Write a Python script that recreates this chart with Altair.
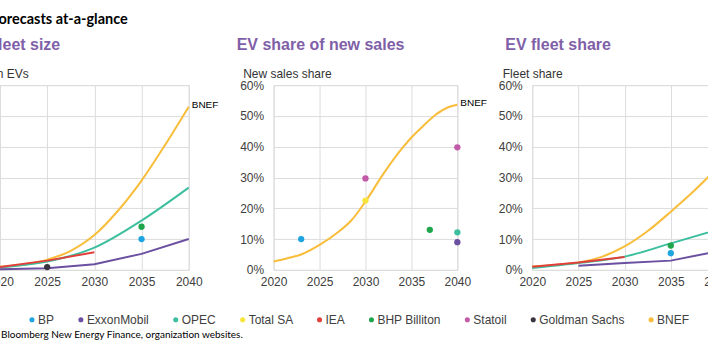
import altair as alt
import pandas as pd

SOURCES = ["BP", "ExxonMobil", "OPEC", "Total SA", "IEA", "BHP Billiton", "Statoil", "Goldman Sachs", "BNEF"]
COLORS = ["#1ea5e0", "#6b4fa0", "#3dbf9f", "#f8e53a", "#e2403a", "#1fa64d", "#c35aa8", "#3a3340", "#f8bd3a"]
PURPLE = "#7f60a8"
FONT = "Liberation Sans"
X_TICKS = [2020, 2025, 2030, 2035, 2040]

# ---- EV fleet size (million EVs) ----
fleet_bnef_years = [2020, 2025, 2027.5, 2030, 2032.5, 2035, 2037.5, 2040]
fleet_bnef_vals = [10, 33, 62, 113, 192, 290, 406, 530]
fleet_opec_years = [2020, 2025, 2030, 2035, 2040]
fleet_opec_vals = [8, 27, 72, 160, 267]
fleet_iea_years = [2020, 2025, 2030]
fleet_iea_vals = [9, 30, 57]
fleet_exxon_years = [2020, 2025, 2030, 2035, 2040]
fleet_exxon_vals = [2, 5, 18, 52, 100]
fleet_pt_src = ["BP", "BHP Billiton", "Goldman Sachs"]
fleet_pt_years = [2035, 2035, 2025]
fleet_pt_vals = [100, 140, 9]

# ---- EV share of new sales (%) ----
sales_bnef_years = [2020, 2021.5, 2023, 2025, 2027, 2028.5, 2030, 2032, 2034, 2035, 2036.2, 2037.6, 2039, 2040]
sales_bnef_vals = [2.7, 3.8, 5.0, 8.1, 12.2, 16.2, 22.2, 31.4, 39.5, 43.0, 46.5, 50.3, 52.8, 53.6]
sales_pt_src = ["BP", "Statoil", "Total SA", "BHP Billiton", "OPEC", "ExxonMobil", "Statoil"]
sales_pt_years = [2023, 2030, 2030, 2037, 2040, 2040, 2040]
sales_pt_vals = [10.0, 29.7, 22.5, 13.0, 12.2, 9.0, 39.8]

# ---- EV fleet share (%) ----
share_bnef_years = [2020, 2022.5, 2025, 2027.5, 2030, 2032.5, 2035, 2037.5, 2040]
share_bnef_vals = [1.1, 1.6, 2.4, 4.2, 7.6, 12.6, 18.9, 25.6, 33.0]
share_opec_years = [2020, 2025, 2030, 2035, 2040]
share_opec_vals = [0.6, 2.2, 4.3, 8.6, 13.0]
share_iea_years = [2020, 2025, 2030]
share_iea_vals = [1.0, 2.4, 4.2]
share_exxon_years = [2025, 2030, 2035, 2040]
share_exxon_vals = [1.3, 2.2, 3.0, 6.0]
share_pt_src = ["BHP Billiton", "BP"]
share_pt_years = [2035, 2035]
share_pt_vals = [7.9, 5.4]


def series(name, years, vals, scale=1.0):
    return pd.DataFrame({"source": name, "year": years, "value": [v * scale for v in vals]})


legend = alt.Legend(
    title=None, orient="none", legendX=26, legendY=229, direction="horizontal", columns=9,
    symbolType="circle", symbolSize=26, symbolStrokeWidth=0, labelFont=FONT, labelFontSize=12,
    labelColor="#404040", labelOffset=0, columnPadding=20, padding=0, gridAlign="none",
)
cscale = alt.Scale(domain=SOURCES, range=COLORS)
color = alt.Color("source:N", scale=cscale, legend=legend)


def text_layer(txt, x, y, size, weight="normal", col="#000000", font=FONT):
    return alt.Chart(pd.DataFrame({"t": [txt]})).mark_text(
        align="left", baseline="alphabetic", font=font, fontSize=size, fontWeight=weight, color=col
    ).encode(x=alt.value(x), y=alt.value(y), text="t:N")


def panel(smooth_df, linear_df, pts_df, ymax, ystep, yfmt, ytitle, ytitle_x, title, title_x, width, extra=()):
    xs = alt.X("year:Q", scale=alt.Scale(domain=[2020, 2040], nice=False),
               axis=alt.Axis(values=X_TICKS, format="d", title=None, grid=True, gridColor="#dcdcdc",
                             domain=False, ticks=False, labelPadding=7, labelFont=FONT,
                             labelFontSize=12, labelColor="#404040", labelFlush=False))
    yvals = [round(i * ystep, 6) for i in range(int(round(ymax / ystep)) + 1)]
    ys = alt.Y("value:Q", scale=alt.Scale(domain=[0, ymax], nice=False),
               axis=alt.Axis(values=yvals, format=yfmt, title=ytitle, grid=True, gridColor="#dcdcdc",
                             domain=False, ticks=False, labelPadding=10, labelFont=FONT,
                             labelFontSize=12, labelColor="#404040", labelFlush=False,
                             titleAngle=0, titleAlign="left",
                             titleBaseline="middle", titleX=ytitle_x, titleY=-12, titleFont=FONT,
                             titleFontSize=12, titleFontWeight="normal", titleColor="#333333"))
    layers = []
    if smooth_df is not None:
        layers.append(alt.Chart(smooth_df).mark_line(strokeWidth=2, interpolate="monotone")
                      .encode(x=xs, y=ys, color=color, detail="source:N"))
    if linear_df is not None:
        layers.append(alt.Chart(linear_df).mark_line(strokeWidth=2)
                      .encode(x=xs, y=ys, color=color, detail="source:N"))
    layers.append(alt.Chart(pts_df).mark_circle(size=40, opacity=1)
                  .encode(x=xs, y=ys, color=color))
    bnef_end = smooth_df[smooth_df.source == "BNEF"].tail(1)
    layers.append(alt.Chart(bnef_end).mark_text(align="left", baseline="middle", dx=3, dy=-2,
                                                font=FONT, fontSize=10, color="#000000")
                  .encode(x=xs, y=ys, text=alt.value("BNEF")))
    layers.append(text_layer(title, title_x, -35, 16, "bold", PURPLE))
    layers.extend(extra)
    return alt.layer(*layers).properties(width=width, height=185)


fleet_smooth = pd.concat([series("BNEF", fleet_bnef_years, fleet_bnef_vals),
                          series("OPEC", fleet_opec_years, fleet_opec_vals)])
fleet_linear = pd.concat([series("ExxonMobil", fleet_exxon_years, fleet_exxon_vals),
                          series("IEA", fleet_iea_years, fleet_iea_vals)])
fleet_pts = pd.DataFrame({"source": fleet_pt_src, "year": fleet_pt_years, "value": fleet_pt_vals})

sales_smooth = series("BNEF", sales_bnef_years, sales_bnef_vals, 0.01)
sales_pts = pd.DataFrame({"source": sales_pt_src, "year": sales_pt_years,
                          "value": [v / 100 for v in sales_pt_vals]})

share_smooth = pd.concat([series("BNEF", share_bnef_years, share_bnef_vals, 0.01),
                          series("OPEC", share_opec_years, share_opec_vals, 0.01)])
share_linear = pd.concat([series("ExxonMobil", share_exxon_years, share_exxon_vals, 0.01),
                          series("IEA", share_iea_years, share_iea_vals, 0.01)])
share_pts = pd.DataFrame({"source": share_pt_src, "year": share_pt_years,
                          "value": [v / 100 for v in share_pt_vals]})

left = panel(fleet_smooth, fleet_linear, fleet_pts, 600, 100, "d", "Million EVs", -31,
             "EV fleet size", -33, 189,
             extra=[text_layer("Forecasts at-a-glance", -9, -61, 14.5, "bold", "#000000", "Lato"),
                    text_layer("Source: Bloomberg New Energy Finance, organization websites.",
                               -34, 253, 10, "normal", "#000000", "Lato")])
mid = panel(sales_smooth, None, sales_pts, 0.6, 0.1, ".0%", "New sales share", -31,
            "EV share of new sales", -37, 184)
right = panel(share_smooth, share_linear, share_pts, 0.6, 0.1, ".0%", "Fleet share", -30,
              "EV fleet share", -27, 185)

inner = alt.hconcat(mid, right, spacing=75, bounds="flush")
chart = alt.hconcat(left, inner, spacing=85, bounds="flush").properties(
    padding={"left": -35, "top": 11, "right": -40, "bottom": 5}
).configure_view(stroke=None).configure(background="white")

chart.save("out.html", embed_options={"renderer": "svg", "actions": False})
